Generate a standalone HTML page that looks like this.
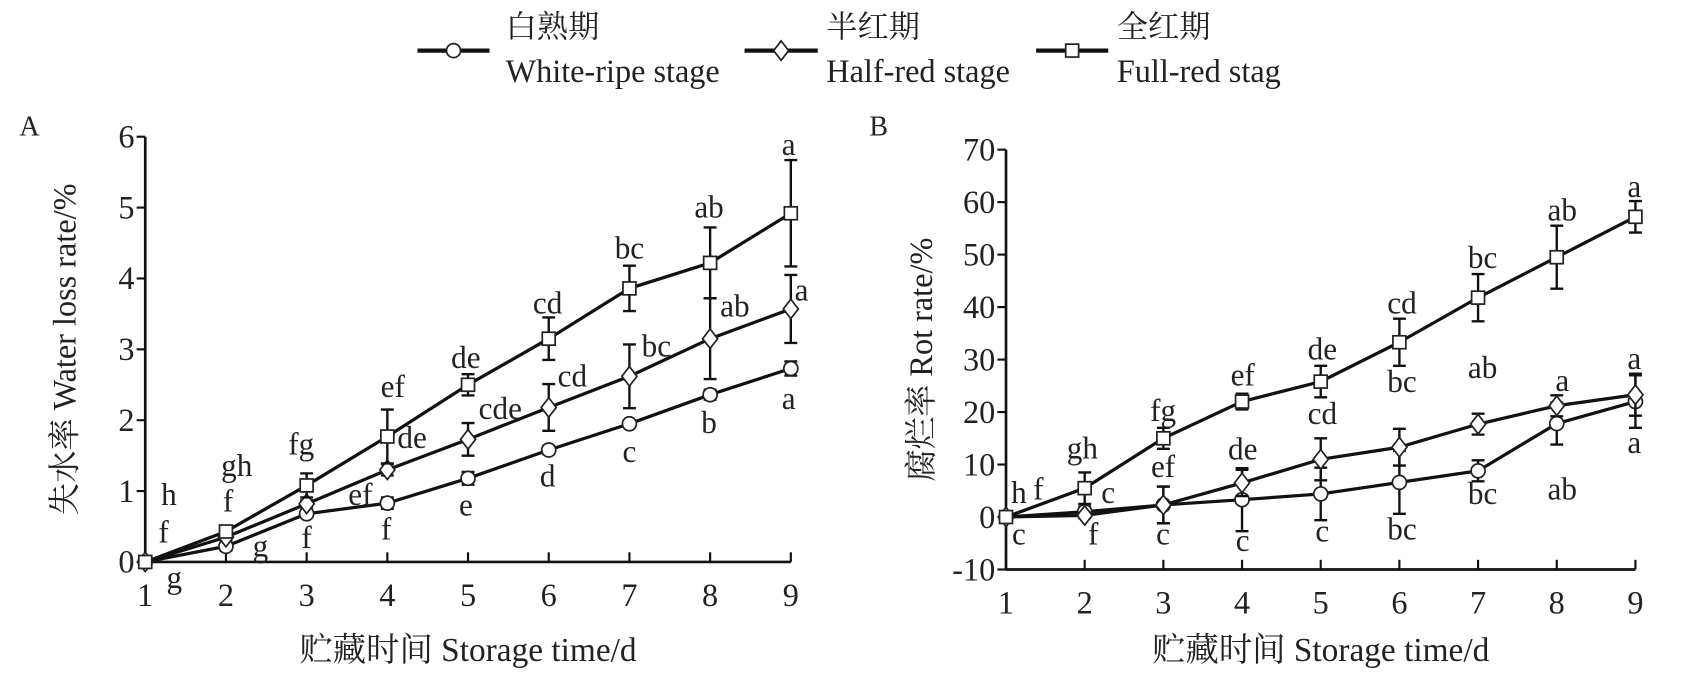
<!DOCTYPE html>
<html><head><meta charset="utf-8"><style>
html,body{margin:0;padding:0;background:#fff;}
svg{display:block}
text{font-family:"Liberation Serif","Noto Serif CJK SC","Noto Sans CJK SC",serif;fill:#222}
</style></head><body>
<svg id="s" width="1686" height="689" viewBox="0 0 1567 640" preserveAspectRatio="none" xmlns="http://www.w3.org/2000/svg"></svg>
<script>
const s=document.getElementById('s');let h='';
function T(x,y,t,sz,anc,extra){h+=`<text x="${x}" y="${y}" font-size="${sz}" text-anchor="${anc||'middle'}" ${extra||''}>${t}</text>`;}
function mk(type,x,y){
 if(type==='c')return `<circle cx="${x}" cy="${y}" r="6.5" fill="#fff" stroke="#222" stroke-width="1.6"/>`;
 if(type==='d')return `<polygon points="${x},${y-9} ${x+7},${y} ${x},${y+9} ${x-7},${y}" fill="#fff" stroke="#222" stroke-width="1.6"/>`;
 return `<rect x="${x-6}" y="${y-6}" width="12" height="12" fill="#fff" stroke="#222" stroke-width="1.6"/>`;
}
const L=[[388,455,470,'c','白熟期','White-ripe stage'],[692,760,768,'d','半红期','Half-red stage'],[963,1030,1038,'s','全红期','Full-red stag']];
L.forEach(l=>{h+=`<line x1="${l[0]}" x2="${l[1]}" y1="47" y2="47" stroke="#111" stroke-width="4"/>`;h+=mk(l[3],(l[0]+l[1])/2,47);T(l[2],35,l[4],29,'start');T(l[2],76,l[5],30,'start');});
function chart(o){
 const X=i=>o.x0+(i-1)*(o.x9-o.x0)/8, Y=v=>o.yb-(v-o.ymin)*(o.yb-o.yt)/(o.ymax-o.ymin);
 h+=`<line x1="${o.x0}" y1="${o.yt}" x2="${o.x0}" y2="${o.yb}" stroke="#111" stroke-width="2.5"/>`;
 h+=`<line x1="${o.x0}" y1="${o.yb}" x2="${o.x9}" y2="${o.yb}" stroke="#111" stroke-width="2.5"/>`;
 for(let v=o.ymin;v<=o.ymax;v+=o.step){const y=Y(v);h+=`<line x1="${o.x0-8}" x2="${o.x0}" y1="${y}" y2="${y}" stroke="#111" stroke-width="2"/>`;T(o.x0-10,y+10,v,30,'end');}
 for(let i=1;i<=9;i++){const x=X(i);h+=`<line x1="${x}" x2="${x}" y1="${o.yb-9}" y2="${o.yb}" stroke="#111" stroke-width="2"/>`;T(x,o.yb+41,i,30);}
 o.series.forEach(se=>{
  let p=se.v.map((v,i)=>X(i+1)+','+Y(v)).join(' ');
  h+=`<polyline points="${p}" fill="none" stroke="#111" stroke-width="3"/>`;
  se.v.forEach((v,i)=>{const e=se.e[i];if(e>0){const x=X(i+1);h+=`<path d="M${x},${Y(v+e)}V${Y(v-e)}M${x-6},${Y(v+e)}h12M${x-6},${Y(v-e)}h12" stroke="#111" stroke-width="2.2" fill="none"/>`;}});
  se.v.forEach((v,i)=>{h+=mk(se.t,X(i+1),Y(v));});
 });
 o.labels.forEach(l=>T(l[0],l[1]+9,l[2],29));
 T(o.lx,126,o.letter,26,'start');
 T((o.x0+o.x9)/2,614,'贮藏时间 Storage time/d',31);
 h+=`<text x="0" y="0" font-size="30" text-anchor="middle" transform="translate(${o.yx},${(o.yt+o.yb)/2}) rotate(-90)">${o.ylab}</text>`;
}
chart({x0:135,x9:735,yt:127,yb:522,ymin:0,ymax:6,step:1,lx:18,letter:'A',yx:70,ylab:'失水率 Water loss rate/%',
series:[
{t:'c',v:[0,0.22,0.68,0.83,1.18,1.58,1.95,2.36,2.73],e:[0,0.06,0.05,0.08,0.09,0.06,0.05,0.07,0.1]},
{t:'d',v:[0,0.35,0.82,1.3,1.73,2.18,2.62,3.15,3.57],e:[0,0.05,0.05,0.08,0.23,0.33,0.45,0.57,0.48]},
{t:'s',v:[0,0.43,1.08,1.77,2.5,3.15,3.86,4.22,4.92],e:[0,0.08,0.17,0.38,0.15,0.3,0.32,0.5,0.75]}],
labels:[[157,460,'h'],[152,495,'f'],[162,537,'g'],[220,433,'gh'],[212,466,'f'],[242,508,'g'],[280,413,'fg'],[285,500,'f'],[335,460,'ef'],[383,407,'de'],[365,360,'ef'],[359,492,'f'],[433,333,'de'],[465,380,'cde'],[433,470,'e'],[509,282,'cd'],[532,350,'cd'],[509,443,'d'],[585,231,'bc'],[610,322,'bc'],[585,420,'c'],[659,193,'ab'],[683,285,'ab'],[659,393,'b'],[733,135,'a'],[745,270,'a'],[733,371,'a']]});
chart({x0:935,x9:1520,yt:139,yb:529,ymin:-10,ymax:70,step:10,lx:808,letter:'B',yx:866,ylab:'腐烂率 Rot rate/%',
series:[
{t:'c',v:[0,1,2.3,3.3,4.4,6.6,8.8,17.8,22],e:[0,1,3.5,6,5,6,2,4,5]},
{t:'d',v:[0,0.3,2.3,6.5,11,13.3,17.7,21.2,23.3],e:[0,0.5,3.5,2.5,4,3.5,2,2,4]},
{t:'s',v:[0,5.5,15,22,25.8,33.3,41.8,49.5,57.2],e:[0,3,2,1.5,3,4.5,4.5,6,3]}],
labels:[[947,458,'h'],[965,455,'f'],[947,497,'c'],[1006,417,'gh'],[1030,458,'c'],[1016,497,'f'],[1081,382,'fg'],[1081,434,'ef'],[1081,497,'c'],[1155,349,'ef'],[1155,418,'de'],[1155,503,'c'],[1229,325,'de'],[1229,385,'cd'],[1229,494,'c'],[1303,282,'cd'],[1303,355,'bc'],[1303,492,'bc'],[1378,240,'bc'],[1378,342,'ab'],[1378,459,'bc'],[1452,196,'ab'],[1452,354,'a'],[1452,455,'ab'],[1519,174,'a'],[1519,334,'a'],[1519,412,'a']]});
s.innerHTML=h;
</script>
</body></html>
